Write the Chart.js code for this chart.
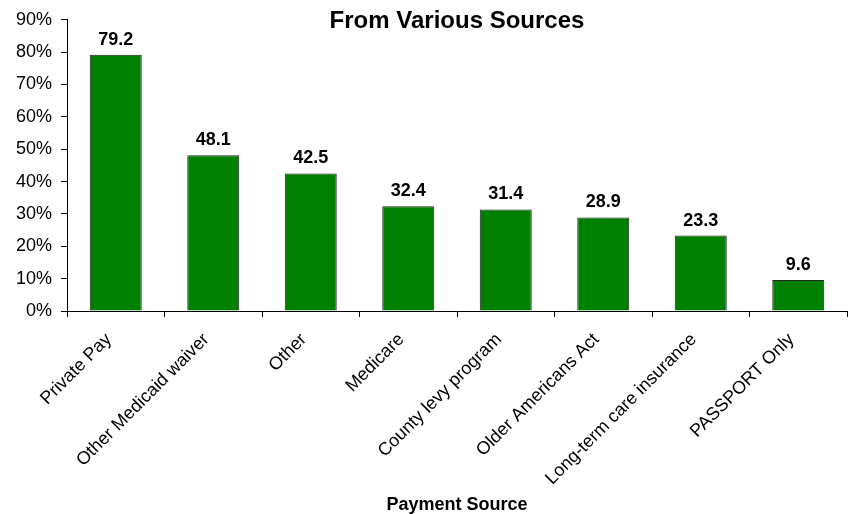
<!DOCTYPE html>
<html>
<head>
    <title>Payment Sources</title>
    <script src="https://cdnjs.cloudflare.com/ajax/libs/Chart.js/4.4.1/chart.umd.min.js"></script>
    <style>
        body { margin: 0; background: #fff; }
        .chart-container { width: 854px; height: 514px; }
    </style>
</head>
<body>
    <div class="chart-container">
        <canvas id="myChart"></canvas>
    </div>

    <script>
        const categories = ['Private Pay', 'Other Medicaid waiver', 'Other', 'Medicare',
            'County levy program', 'Older Americans Act', 'Long-term care insurance', 'PASSPORT Only'];
        const percentValues = [79.2, 48.1, 42.5, 32.4, 31.4, 28.9, 23.3, 9.6];
        const chartTitle = 'From Various Sources';
        const xAxisTitle = 'Payment Source';

        const FONT = "'Liberation Sans', Arial, sans-serif";

        // values above bars + title inside the plot
        const labelPlugin = {
            id: 'labels',
            afterDatasetsDraw(chart) {
                const ctx = chart.ctx;
                const meta = chart.getDatasetMeta(0);
                ctx.save();
                ctx.fillStyle = '#000';
                ctx.font = 'bold 18px ' + FONT;
                ctx.textAlign = 'center';
                ctx.textBaseline = 'alphabetic';
                meta.data.forEach((bar, i) => {
                    ctx.fillText(percentValues[i].toFixed(1), bar.x, bar.y - 10);
                });
                const area = chart.chartArea;
                ctx.font = 'bold 24px ' + FONT;
                ctx.fillText(chartTitle, (area.left + area.right) / 2, 28);
                ctx.restore();
            }
        };

        const ctx = document.getElementById('myChart').getContext('2d');
        new Chart(ctx, {
            type: 'bar',
            data: {
                labels: categories,
                datasets: [{
                    data: percentValues,
                    backgroundColor: '#008000',
                    borderColor: '#222222',
                    borderWidth: 1,
                    categoryPercentage: 1,
                    barPercentage: 0.533
                }]
            },
            options: {
                responsive: true,
                maintainAspectRatio: false,
                animation: false,
                layout: { padding: { top: 16, right: 7, left: 0, bottom: 0 } },
                plugins: {
                    legend: { display: false },
                    tooltip: { enabled: false },
                    title: { display: false }
                },
                scales: {
                    x: {
                        afterFit(scale) { scale.height = 203; },
                        grid: {
                            offset: true,
                            drawOnChartArea: false,
                            tickLength: 6,
                            color: '#000'
                        },
                        border: { color: '#000', width: 1 },
                        ticks: {
                            color: '#000',
                            font: { family: FONT, size: 18 },
                            minRotation: 45,
                            maxRotation: 45,
                            autoSkip: false,
                            padding: 12,
                            labelOffset: -7
                        },
                        title: {
                            display: true,
                            text: xAxisTitle,
                            color: '#000',
                            font: { family: FONT, size: 18, weight: 'bold' },
                            padding: { top: 0, bottom: -2 }
                        }
                    },
                    y: {
                        min: 0,
                        max: 90,
                        afterFit(scale) { scale.width = 67; },
                        grid: {
                            drawOnChartArea: false,
                            tickLength: 6,
                            color: '#000'
                        },
                        border: { color: '#000', width: 1 },
                        ticks: {
                            stepSize: 10,
                            color: '#000',
                            padding: 9,
                            font: { family: FONT, size: 18 },
                            callback: v => v + '%'
                        }
                    }
                }
            },
            plugins: [labelPlugin]
        });
    </script>
</body>
</html>
